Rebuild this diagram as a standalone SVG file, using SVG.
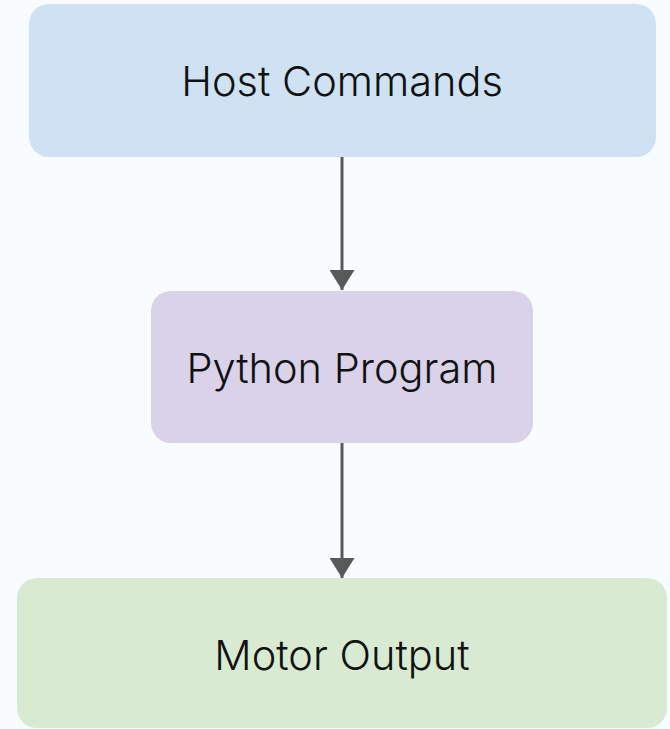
<svg xmlns="http://www.w3.org/2000/svg" width="670" height="729" viewBox="0 0 670 729">
  <style>
    .box { stroke: none; }
    .label { font-family: Inter, "Open Sans", "Liberation Sans", sans-serif; font-size: 41.5px; font-weight: 300; fill: #111111; text-anchor: middle; dominant-baseline: central; }
    .edge { stroke: #595959; stroke-width: 3; fill: none; }
  </style>
  <defs>
    <marker id="arrow" viewBox="0 0 20 25" refX="20" refY="12.5" markerWidth="20" markerHeight="25" markerUnits="userSpaceOnUse" orient="auto">
      <path d="M0,0 L20,12.5 L0,25 Z" fill="#595959"/>
    </marker>
  </defs>
  <rect width="670" height="729" fill="#F8FCFF"/>

  <g id="connectors">
    <line class="edge" x1="342" y1="157" x2="342" y2="290" marker-end="url(#arrow)"/>
    <line class="edge" x1="342" y1="443" x2="342" y2="578" marker-end="url(#arrow)"/>
  </g>

  <g id="host-commands">
    <rect class="box" x="29" y="4" width="627" height="153" rx="20" fill="#CFE2F3"/>
    <text class="label" x="342" y="81">Host Commands</text>
  </g>

  <g id="python-program">
    <rect class="box" x="151" y="291" width="382" height="152" rx="20" fill="#D9D2E9"/>
    <text class="label" x="342" y="368">Python Program</text>
  </g>

  <g id="motor-output">
    <rect class="box" x="17" y="578" width="650" height="150" rx="20" fill="#D9EAD3"/>
    <text class="label" x="342" y="655">Motor Output</text>
  </g>
</svg>
